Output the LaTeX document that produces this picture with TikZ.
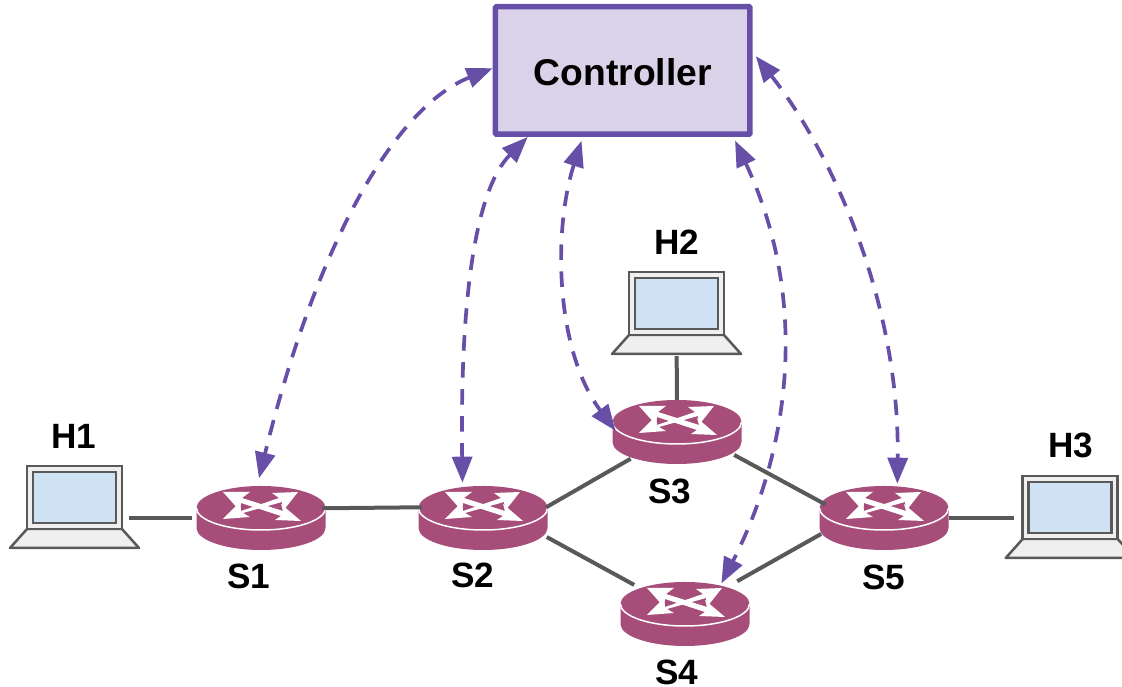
\documentclass[tikz,border=0pt]{standalone}
\usepackage{fontspec}
\setmainfont{Liberation Sans}
\usetikzlibrary{arrows.meta,calc,shapes.geometric}
\definecolor{ctrlfill}{HTML}{D9D2E9}
\definecolor{ctrlpurple}{HTML}{674EA7}
\definecolor{switchred}{HTML}{A64D79}
\definecolor{linkgray}{HTML}{595959}
\definecolor{screenblue}{HTML}{CFE2F3}
\definecolor{casegray}{HTML}{EFEFEF}
\tikzset{
  controlbox/.style={draw=ctrlpurple,fill=ctrlfill,line width=.055cm,rounded corners=.01cm,
    minimum width=2.545cm,minimum height=1.275cm,inner sep=0pt,text height=.31cm,font=\fontsize{10.6pt}{12pt}\selectfont\bfseries},
  label/.style={inner sep=0pt,font=\fontsize{10pt}{12pt}\selectfont\bfseries},
  switchbody/.style={ellipse,minimum width=1.29cm,minimum height=.64cm,inner sep=0pt,outer sep=0pt},
  screenbox/.style={draw=linkgray,fill=casegray,line width=.025cm,minimum width=.95cm,minimum height=.63cm,inner sep=0pt},
  link/.style={draw=linkgray,line width=.04cm},
  ctrlarrow/.style={draw=ctrlpurple,line width=.037cm,dash pattern=on .155cm off .115cm,
    {Stealth[length=.26cm,width=.2cm,inset=0pt]}-{Stealth[length=.26cm,width=.2cm,inset=0pt]}},
  pics/switchicon/.style={code={
    \fill[switchred] (-.645,.10)--(-.645,-.10) arc[start angle=180,end angle=360,x radius=.645,y radius=.22]
      --(.645,.10) arc[start angle=0,end angle=180,x radius=.645,y radius=.22]--cycle;
    \draw[white,line width=.015cm] (-.645,.10) arc[start angle=180,end angle=360,x radius=.645,y radius=.22];
    % the four arms of the cross
    \begin{scope}[shift={(-.01,.12)}]
      \fill[white] (-.37,.14)--(-.10,.14)--(-.18,.08)--(.23,-.05)--(.21,.02)--(.41,-.15)--(.15,-.14)--(.21,-.10)--(-.19,.03)--(-.20,-.05)--cycle;
      \fill[white] (.38,.14)--(.12,.13)--(.19,.08)--(-.19,-.05)--(-.20,.04)--(-.37,-.13)--(-.10,-.11)--(-.17,-.07)--(.22,.04)--(.23,-.05)--cycle;
    \end{scope}
  }},
  pics/laptopbase/.style={code={
    \draw[draw=linkgray,fill=casegray,line width=.025cm,line join=round] (-.475,-.315)--(.475,-.315)--(.645,-.505)--(-.645,-.505)--cycle;
  }}
}
\begin{document}
\begin{tikzpicture}
\useasboundingbox (0,0) rectangle (11.22,6.87);
% hosts
\foreach \name/\x/\y in {PC1/0.745/1.895,PC2/6.765/3.835,PC3/10.702/1.795}{
  \pic at (\x,\y) {laptopbase};
  \node[screenbox] (\name) at (\x,\y) {};
  \fill[screenblue,draw=linkgray,line width=.025cm] ($(\name)+(-.415,-.255)$) rectangle ($(\name)+(.415,.255)$);
}
% switches
\foreach \name/\x/\y in {S1/2.61/1.69,S2/4.83/1.69,S3/6.77/2.55,S4/6.85/.73,S5/8.84/1.69}{
  \pic at (\x,\y) {switchicon};
  \node[switchbody] (\name) at (\x,\y) {};
}
\node[controlbox] (ctrl) at (6.227,6.165) {Controller};
\node[label] (H1) at (.735,2.51) {H1};
\node[label] (H2) at (6.765,4.45) {H2};
\node[label] (H3) at (10.71,2.42) {H3};
\node[label] (L1) at (2.485,1.11) {S1};
\node[label] (L2) at (4.73,1.12) {S2};
\node[label] (L3) at (6.70,1.96) {S3};
\node[label] (L4) at (6.77,.15) {S4};
\node[label] (L5) at (8.84,1.10) {S5};
% links
\draw[link,shorten <=.06cm,shorten >=.05cm] (PC1.east|-S1.west)--(S1.west);
\draw[link] (S1.9.5)--(S2.170.5);
\draw[link,shorten <=.02cm,shorten >=.05cm] (S2.9)--(S3.210);
\draw[link,shorten <=.08cm,shorten >=.1cm] (S2.-15)--(S4.150);
\draw[link,shorten <=.07cm] (S3.-21)--(S5.167);
\draw[link,shorten <=.05cm,shorten >=.15cm] (S5.193)--(S4.33);
\draw[link,shorten <=.2cm] (PC2.south)--(S3.north);
\draw[link,shorten >=.07cm] (S5.east)--(PC3.west|-S5.east);
% controller channels
\draw[ctrlarrow,shorten >=.08cm] (ctrl.179) .. controls (4.0,5.82) and (3.2,4.57) .. (S1.97);
\draw[ctrlarrow,shorten >=.05cm] (ctrl.215) .. controls (4.75,4.97) and (4.6,3.87) .. (S2.124);
\draw[ctrlarrow,shorten <=.04cm,shorten >=-.04cm] (ctrl.239) .. controls (5.53,4.57) and (5.55,3.37) .. (S3.176);
\draw[ctrlarrow,shorten <=.04cm,shorten >=.04cm] (ctrl.-31.3) .. controls (8.1,3.87) and (7.9,2.37) .. (S4.38);
\draw[ctrlarrow,shorten <=.05cm,shorten >=.03cm] (ctrl.8.5) .. controls (8.3,5.37) and (9.0,3.87) .. (S5.67);
\end{tikzpicture}
\end{document}
